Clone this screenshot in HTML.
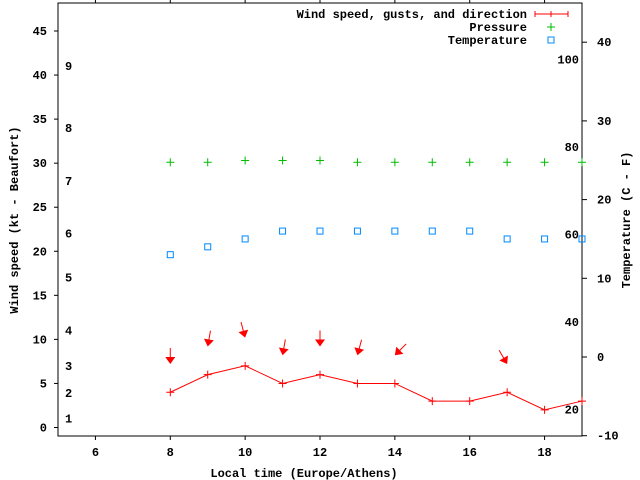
<!DOCTYPE html>
<html><head><meta charset="utf-8"><style>
body{margin:0;background:#fff}
svg{display:block}
text{font-family:"Liberation Mono",monospace;font-size:12px;font-weight:bold;fill:#000}
</style></head><body>
<svg id="chart" width="640" height="480" viewBox="0 0 640 480" xmlns="http://www.w3.org/2000/svg">
<g id="axes"></g>
<g id="marks"></g>
<g id="legend">
<text x="527" y="18" text-anchor="end">Wind speed, gusts, and direction</text>
<line x1="535" y1="14" x2="568" y2="14" stroke="#f00"/>
<line x1="535" y1="11" x2="535" y2="17" stroke="#f00"/><line x1="568" y1="11" x2="568" y2="17" stroke="#f00"/><line x1="551" y1="11" x2="551" y2="17" stroke="#f00"/>
<text x="527" y="31" text-anchor="end">Pressure</text>
<path d="M547 27h8M551 23v8" stroke="#0b0"/>
<text x="527" y="44" text-anchor="end">Temperature</text>
<rect x="548" y="37" width="6" height="6" fill="none" stroke="#08f"/>
</g>
<text x="304" y="477" text-anchor="middle">Local time (Europe/Athens)</text>
<text transform="translate(18,220) rotate(-90)" text-anchor="middle">Wind speed (kt - Beaufort)</text>
<text transform="translate(630,220) rotate(-90)" text-anchor="middle">Temperature (C - F)</text>
</svg>
<script>
const hours=[8,9,10,11,12,13,14,15,16,17,18,19];
const windKt=[4,6,7,5,6,5,5,3,3,4,2,3];
const windDir=[360,350,15,350,360,345,315,null,null,30,null,null];
const pressure=[30.1,30.1,30.3,30.3,30.3,30.1,30.1,30.1,30.1,30.1,30.1,30.1];
const tempC=[13,14,15,16,16,16,16,16,16,15,15,15];
const xTicks=[6,8,10,12,14,16,18];
const yTicks=[0,5,10,15,20,25,30,35,40,45];
const y2Ticks=[-10,0,10,20,30,40];
const beaufortLabels=["1","2","3","4","5","6","7","8","9"];
const beaufortKt=[1,3.9,7,11,17,22,28,34,41];
const fahrenheitLabels=[20,40,60,80,100];

const L=58,R=582,T=3,B=436;
const X=v=>L+(v-5)/(19-5)*(R-L);
const Y=v=>427.5-v*(427.5-31)/45;
const Y2=v=>357-v*7.87;
const NS="http://www.w3.org/2000/svg";
function mk(p,tag,attrs){const e=document.createElementNS(NS,tag);for(const k in attrs)e.setAttribute(k,attrs[k]);p.appendChild(e);return e;}
const ax=document.getElementById('axes'),mg=document.getElementById('marks');
const frame=mk(ax,'rect',{x:L,y:T,width:R-L,height:B-T,fill:'none',stroke:'#000'});


xTicks.forEach(v=>{const x=X(v);
 mk(ax,'path',{d:`M${x} ${B}v4M${x} ${T}v-4`,stroke:'#000'});
 const t=mk(ax,'text',{x:x,y:B+20,'text-anchor':'middle'});t.textContent=v;
 
 });
yTicks.forEach(v=>{const y=Y(v);
 mk(ax,'path',{d:`M${L} ${y}h-4`,stroke:'#000'});
 const t=mk(ax,'text',{x:47,y:y+4,'text-anchor':'end'});t.textContent=v;
 
 });
y2Ticks.forEach(v=>{const y=Y2(v);
 mk(ax,'path',{d:`M${R} ${y}h5`,stroke:'#000'});
 const t=mk(ax,'text',{x:597,y:y+4});t.textContent=v;
 
 });
beaufortLabels.forEach((s,i)=>{const t=mk(ax,'text',{x:65,y:Y(beaufortKt[i])+4});t.textContent=s;
 
 });
fahrenheitLabels.forEach(f=>{const t=mk(ax,'text',{x:579,y:Y2((f-32)*5/9)+4,'text-anchor':'end'});t.textContent=f;
 
 });
// wind line
const ln=mk(mg,'polyline',{points:hours.map((h,i)=>X(h)+','+Y(windKt[i])).join(' '),fill:'none',stroke:'#f00'});


hours.forEach((h,i)=>{const x=X(h),y=Y(windKt[i]);
 const p=mk(mg,'path',{d:`M${x-4} ${y}h8M${x} ${y-4}v8`,stroke:'#f00'});
 
 
 if(windDir[i]!=null){const tx=x,ty=Y(windKt[i]+3.2);
  const g=mk(mg,'g',{transform:`translate(${tx},${ty}) rotate(${-windDir[i]+360})`});
  
  
  mk(g,'line',{x1:0,y1:-16,x2:0,y2:-3,stroke:'#f00'});
  mk(g,'path',{d:'M0 0L-5 -7L5 -7Z',fill:'#f00'});}
 const py=Y(pressure[i]);
 const pp=mk(mg,'path',{d:`M${x-4} ${py}h8M${x} ${py-4}v8`,stroke:'#0b0'});
 
 
 const ty2=Y2(tempC[i]);
 const r=mk(mg,'rect',{x:x-3,y:ty2-3,width:6,height:6,fill:'none',stroke:'#08f'});
 
 
});
</script>
</body></html>
